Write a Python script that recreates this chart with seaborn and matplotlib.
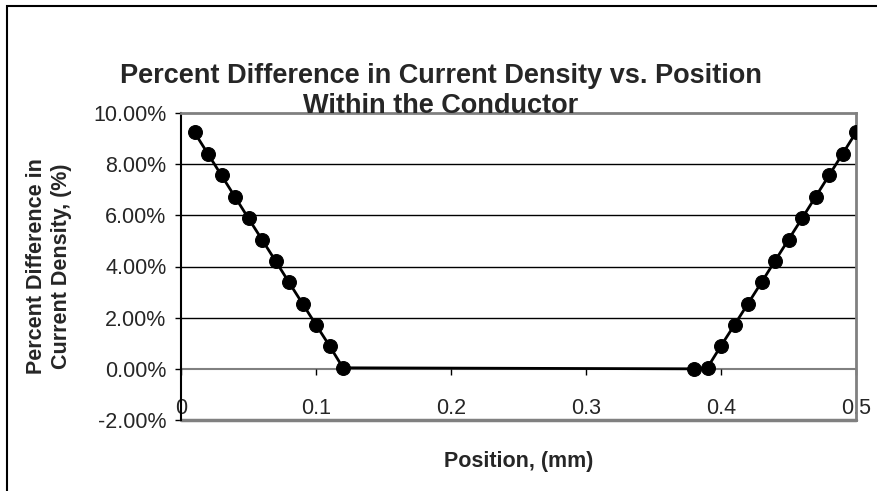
import matplotlib
matplotlib.use("Agg")
import matplotlib.pyplot as plt
import seaborn as sns
import pandas as pd
from matplotlib.patches import Rectangle
from matplotlib.ticker import FuncFormatter, FixedLocator

# Data
position = [0.01, 0.02, 0.03, 0.04, 0.05, 0.06, 0.07, 0.08, 0.09, 0.10, 0.11, 0.12,
            0.38, 0.39, 0.40, 0.41, 0.42, 0.43, 0.44, 0.45, 0.46, 0.47, 0.48, 0.49, 0.50]
pct_diff = [9.24, 8.40, 7.56, 6.72, 5.88, 5.05, 4.22, 3.38, 2.55, 1.72, 0.90, 0.04,
            0.00, 0.05, 0.90, 1.72, 2.55, 3.38, 4.22, 5.05, 5.88, 6.72, 7.56, 8.40, 9.24]
x_ticks = [0, 0.1, 0.2, 0.3, 0.4, 0.5]
x_tick_labels = ["0", "0.1", "0.2", "0.3", "0.4", "0.5"]
y_ticks = [-2, 0, 2, 4, 6, 8, 10]

title_lines = ["Percent Difference in Current Density vs. Position",
               "Within the Conductor"]
xlabel = "Position, (mm)"
ylabel = "Percent Difference in\nCurrent Density, (%)"

df = pd.DataFrame({"Position": position, "Diff": pct_diff})

sns.set_style("white")
plt.rcParams["font.family"] = ["Liberation Sans", "DejaVu Sans"]

W, H = 877, 491
fig = plt.figure(figsize=(W / 100, H / 100), dpi=100)
ax = fig.add_axes([181 / W, 1 - 420 / H, (856 - 181) / W, (420 - 113) / H])

sns.lineplot(data=df, x="Position", y="Diff", ax=ax, color="black", linewidth=2,
             marker="o", markersize=10, markeredgecolor="black", markerfacecolor="black",
             estimator=None, sort=True, zorder=5)

ax.set_xlim(0, 0.5)
ax.set_ylim(-2, 10)

gray = "#808080"
# gridlines
for v in [2, 4, 6, 8]:
    ax.axhline(v, color="black", lw=1, zorder=0)
ax.axhline(-2, color=gray, lw=2.5, zorder=1, clip_on=False)

for s in ["top", "right"]:
    ax.spines[s].set_color(gray)
    ax.spines[s].set_linewidth(2)
ax.spines["left"].set_color("black")
ax.spines["left"].set_linewidth(1.5)
ax.spines["bottom"].set_position(("data", 0))
ax.spines["bottom"].set_color(gray)
ax.spines["bottom"].set_linewidth(1.5)
ax.spines["bottom"].set_zorder(0.5)

ax.xaxis.set_major_locator(FixedLocator(x_ticks))
ax.set_xticklabels(x_tick_labels)
ax.yaxis.set_major_locator(FixedLocator(y_ticks))
ax.yaxis.set_major_formatter(FuncFormatter(lambda v, p: f"{v:.2f}%"))

ax.tick_params(axis="x", direction="out", length=4, width=1, color="black",
               pad=17, labelsize=15.5, bottom=True)
ax.tick_params(axis="y", direction="out", length=4.5, width=1, color="black",
               pad=6, labelsize=15.5, left=True)

ax.set_xlabel("")
ax.set_ylabel("")

fig.text(441 / W, 1 - 76 / H, title_lines[0], ha="center", va="center",
         fontsize=19.5, fontweight="bold")
fig.text(441 / W, 1 - 106 / H, title_lines[1], ha="center", va="center",
         fontsize=19.5, fontweight="bold")
fig.text(519 / W, 1 - 461 / H, xlabel, ha="center", va="center", fontsize=15.5,
         fontweight="bold")
fig.text(49 / W, 1 - 266 / H, ylabel, ha="center", va="center", fontsize=15.5,
         fontweight="bold", rotation=90, linespacing=1.2)

# chart area border (extends past the right and bottom edges)
fig.patches.append(Rectangle((7 / W, -0.2), 1.2, 0.2 + (1 - 6 / H),
                             transform=fig.transFigure, fill=False, edgecolor="black",
                             linewidth=1.5, figure=fig))

fig.savefig("out.png", dpi=100)
